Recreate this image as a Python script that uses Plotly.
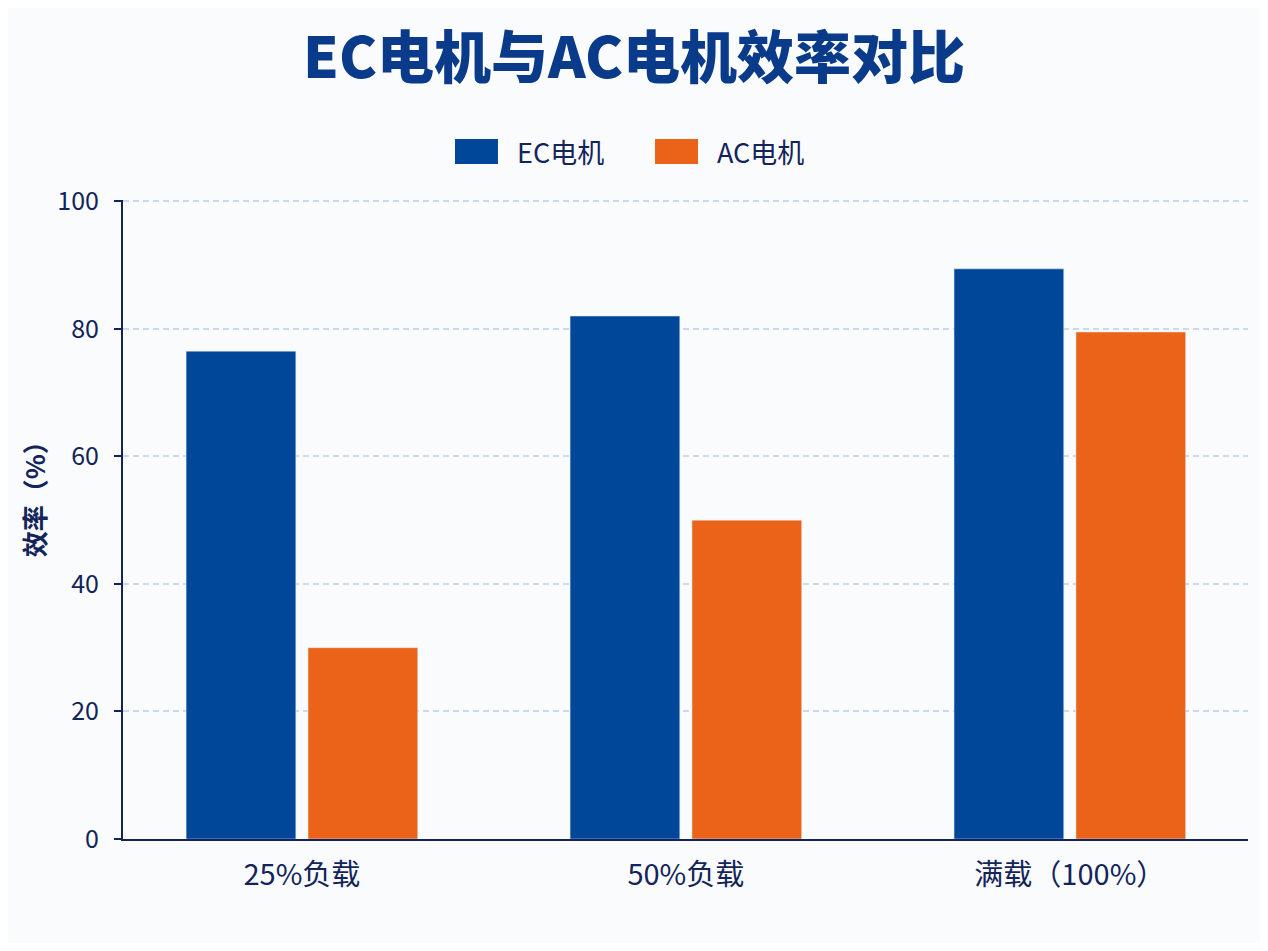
import plotly.graph_objects as go

categories = ["25%负载", "50%负载", "满载（100%）"]
series_names = ["EC电机", "AC电机"]
ec_values = [76.5, 82, 89.4]
ac_values = [30, 50, 79.5]
y_ticks = [0, 20, 40, 60, 80, 100]

navy = "#13245a"
colors = ["#004699", "#ea6318"]
font_cn = "Noto Sans CJK SC"

fig = go.Figure()
fig.add_trace(go.Bar(name=series_names[0], x=categories, y=ec_values, marker_color=colors[0]))
fig.add_trace(go.Bar(name=series_names[1], x=categories, y=ac_values, marker_color=colors[1]))

# page body has an 8px margin, so the figure is a bit smaller than the window
fig.update_layout(
    width=1252, height=935,
    margin=dict(l=115, r=12, t=192, b=104),
    paper_bgcolor="#fafbfd", plot_bgcolor="#fafbfd",
    barmode="group", bargap=0.365, bargroupgap=0.1,
    font=dict(family=font_cn, color=navy, size=22),
    title=dict(text="EC电机与AC电机效率对比", x=0.5, xanchor="center",
               y=0.947, yanchor="middle",
               font=dict(size=57, color="#0a3a8a", family=font_cn, weight=900)),
    showlegend=False,
)

# legend drawn by hand so the swatches can be wide rectangles
legend_x = [0.2951, 0.4729]
for name, col, lx in zip(series_names, colors, legend_x):
    fig.add_shape(type="rect", xref="paper", yref="paper",
                  x0=lx, x1=lx + 0.0382, y0=1.0563, y1=1.0955,
                  fillcolor=col, line_width=0)
    fig.add_annotation(text=name, xref="paper", yref="paper", x=lx + 0.0533, y=1.0759,
                       xanchor="left", yanchor="middle", showarrow=False,
                       font=dict(size=27, color=navy))

fig.add_annotation(text="<b>效率（%）</b>", xref="paper", yref="paper", x=-0.08, y=0.541,
                   xanchor="center", yanchor="middle", textangle=-90, showarrow=False,
                   font=dict(size=26, color=navy))

fig.update_xaxes(
    range=[-0.466, 2.464], showline=True, linecolor=navy, linewidth=2,
    tickfont=dict(size=29, color=navy), ticks="", showgrid=False,
    ticklabelstandoff=9,
)
fig.update_yaxes(
    range=[0, 100.2], tickvals=y_ticks, showline=True, linecolor=navy, linewidth=2,
    ticks="outside", ticklen=7, tickcolor=navy, tickwidth=2,
    tickfont=dict(size=25, color=navy), ticklabelstandoff=10,
    gridcolor="#cbd9ee", griddash="6px,4px", gridwidth=1.5, zeroline=False,
)

fig.write_html("out.html")
